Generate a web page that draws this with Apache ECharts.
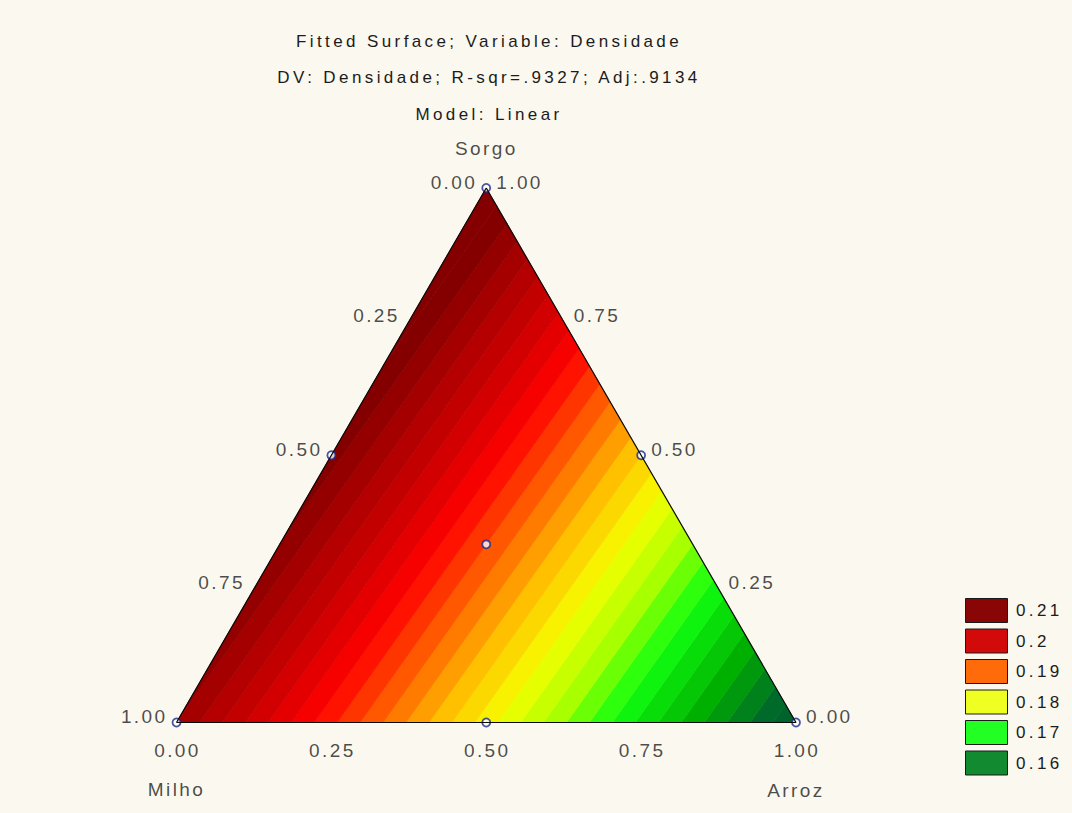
<!DOCTYPE html>
<html><head><meta charset="utf-8">
<script src="https://cdn.jsdelivr.net/npm/echarts/dist/echarts.min.js"></script>
<style>
html,body{margin:0;padding:0;background:#FBF8EF;}
#c{width:1072px;height:813px;}
#c text{letter-spacing:2.4px;}
#c text[style*="17px"]{letter-spacing:3.4px;}
</style>
</head><body><div id="c"></div>
<script>
// ---- data ----
const titleLines = ['Fitted Surface; Variable: Densidade', 'DV: Densidade; R-sqr=.9327; Adj:.9134', 'Model: Linear'];
const componentNames = ['Milho', 'Arroz', 'Sorgo'];            // bottom-left, bottom-right, top
// fitted linear model: Densidade = bMilho*Milho + bArroz*Arroz + bSorgo*Sorgo
const coefMilho = 0.208;
const coefArroz = 0.154;
const coefSorgo = 0.214;
// design points [Milho, Arroz, Sorgo]
const designMilho = [1, 0, 0, 0.5, 0.5, 0, 1/3];
const designArroz = [0, 1, 0, 0.5, 0, 0.5, 1/3];
const designSorgo = [0, 0, 1, 0, 0.5, 0.5, 1/3];
const tickValues = [0, 0.25, 0.5, 0.75, 1];
const tickLabels = ['0.00', '0.25', '0.50', '0.75', '1.00'];
const legendLevels = ['0.21', '0.2', '0.19', '0.18', '0.17', '0.16'];
const legendColors = ['#8A0606', '#D20A0A', '#FF6A0A', '#F0FF22', '#22FF22', '#118A30'];
const bandStep = 0.002;
const colorStopValues = [0.150, 0.157, 0.163, 0.170, 0.175, 0.180, 0.185, 0.190, 0.196, 0.201, 0.206, 0.211];
const colorStopColors = ['#00502F', '#006A2A', '#00B000', '#10FF10', '#A8FF00', '#F6FF00', '#FFC000', '#FF6A00', '#FF0000', '#D20000', '#AC0000', '#840000'];

// ---- helpers ----
const SQ = Math.sqrt(3) / 2;
function toXY(m, a, s) { return [a + s / 2, s * SQ]; }
function fval(m, a, s) { return coefMilho * m + coefArroz * a + coefSorgo * s; }
function hex(c) { return [parseInt(c.slice(1,3),16), parseInt(c.slice(3,5),16), parseInt(c.slice(5,7),16)]; }
function colorAt(v) {
  if (v <= colorStopValues[0]) return colorStopColors[0];
  const n = colorStopValues.length;
  if (v >= colorStopValues[n-1]) return colorStopColors[n-1];
  for (let i = 0; i < n - 1; i++) {
    if (v >= colorStopValues[i] && v <= colorStopValues[i+1]) {
      const t = (v - colorStopValues[i]) / (colorStopValues[i+1] - colorStopValues[i]);
      const a = hex(colorStopColors[i]), b = hex(colorStopColors[i+1]);
      const r = a.map((x, k) => Math.round(x + t * (b[k] - x)));
      return 'rgb(' + r.join(',') + ')';
    }
  }
}
const corners = [[1,0,0],[0,1,0],[0,0,1]].map(b => { const p = toXY(b[0], b[1], b[2]); return {x: p[0], y: p[1], f: fval(b[0], b[1], b[2])}; });
function clip(poly, level, above) {
  const out = [];
  for (let i = 0; i < poly.length; i++) {
    const p = poly[i], q = poly[(i + 1) % poly.length];
    const pin = above ? p.f >= level : p.f <= level;
    const qin = above ? q.f >= level : q.f <= level;
    if (pin) out.push(p);
    if (pin !== qin) {
      const t = (level - p.f) / (q.f - p.f);
      out.push({x: p.x + t * (q.x - p.x), y: p.y + t * (q.y - p.y), f: level});
    }
  }
  return out;
}
const fmin = Math.min(...corners.map(c => c.f)), fmax = Math.max(...corners.map(c => c.f));
const bands = [];
for (let k = Math.floor(fmin / bandStep); k * bandStep < fmax; k++) {
  const lo = k * bandStep, hi = (k + 1) * bandStep;
  const poly = clip(clip(corners, lo, true), hi, false);
  if (poly.length >= 3) bands.push({pts: poly.map(p => [p.x, p.y]), color: colorAt((lo + hi) / 2)});
}

// label points
const FONT = 'Liberation Sans, Arial, sans-serif';
const TXT = '#1c1c1c';
const labelData = [];
tickValues.forEach((v, i) => {
  // left edge: Milho fraction
  labelData.push({value: toXY(v, 0, 1 - v), name: tickLabels[i], label: {align: 'right', offset: [-9, -6]}});
  // right edge: Sorgo fraction
  labelData.push({value: toXY(0, 1 - v, v), name: tickLabels[i], label: {align: 'left', offset: [10, -6]}});
  // bottom edge: Arroz fraction
  labelData.push({value: toXY(1 - v, v, 0), name: tickLabels[i], label: {align: 'center', offset: [1, 28]}});
});
labelData.push({value: toXY(0, 0, 1), name: componentNames[2], label: {align: 'center', offset: [0, -40]}});
labelData.push({value: toXY(1, 0, 0), name: componentNames[0], label: {align: 'center', offset: [0, 67]}});
labelData.push({value: toXY(0, 1, 0), name: componentNames[1], label: {align: 'center', offset: [0, 68]}});

const graphics = [];
titleLines.forEach((t, i) => {
  graphics.push({type: 'text', x: 489, y: [41, 77, 114][i], style: {text: t, font: '17px ' + FONT, fill: TXT, align: 'center', verticalAlign: 'middle'}});
});
legendLevels.forEach((lv, i) => {
  const y0 = 598 + i * 30.5;
  graphics.push({type: 'rect', shape: {x: 965.5, y: y0 + 0.5, width: 42, height: 24}, style: {fill: legendColors[i], stroke: '#1a1a1a', lineWidth: 1}});
  graphics.push({type: 'text', x: 1016, y: y0 + 12.5, style: {text: lv, font: '17px ' + FONT, fill: TXT, align: 'left', verticalAlign: 'middle'}});
});

const chart = echarts.init(document.getElementById('c'), null, {renderer: 'svg', width: 1072, height: 813});
chart.setOption({
  backgroundColor: '#FBF8EF',
  animation: false,
  grid: {left: 176.5, top: 188, width: 619.5, height: 534.5, containLabel: false},
  xAxis: {type: 'value', min: 0, max: 1, show: false},
  yAxis: {type: 'value', min: 0, max: SQ, show: false},
  graphic: graphics,
  series: [
    {
      type: 'custom', coordinateSystem: 'cartesian2d', silent: true, clip: false,
      data: bands.map((b, i) => [i]),
      renderItem: function (params, api) {
        const b = bands[params.dataIndex];
        return {type: 'polygon', shape: {points: b.pts.map(p => api.coord(p))},
                style: {fill: b.color, stroke: b.color, lineWidth: 0.7}};
      }
    },
    {
      type: 'line', silent: true, symbol: 'none',
      data: [toXY(1,0,0), toXY(0,1,0), toXY(0,0,1), toXY(1,0,0)],
      lineStyle: {color: '#0a0a0a', width: 1.2}
    },
    {
      type: 'scatter', silent: true, symbol: 'circle', symbolSize: 8,
      data: designMilho.map((m, i) => toXY(m, designArroz[i], designSorgo[i])),
      itemStyle: {color: '#ffffff', borderColor: '#1c2a8c', borderWidth: 1.8}
    },
    {
      type: 'scatter', silent: true, symbolSize: 0,
      data: labelData,
      label: {show: true, position: 'inside', verticalAlign: 'middle', formatter: '{b}',
              fontFamily: FONT, fontSize: 19, color: TXT}
    }
  ]
});
</script>
</body></html>
